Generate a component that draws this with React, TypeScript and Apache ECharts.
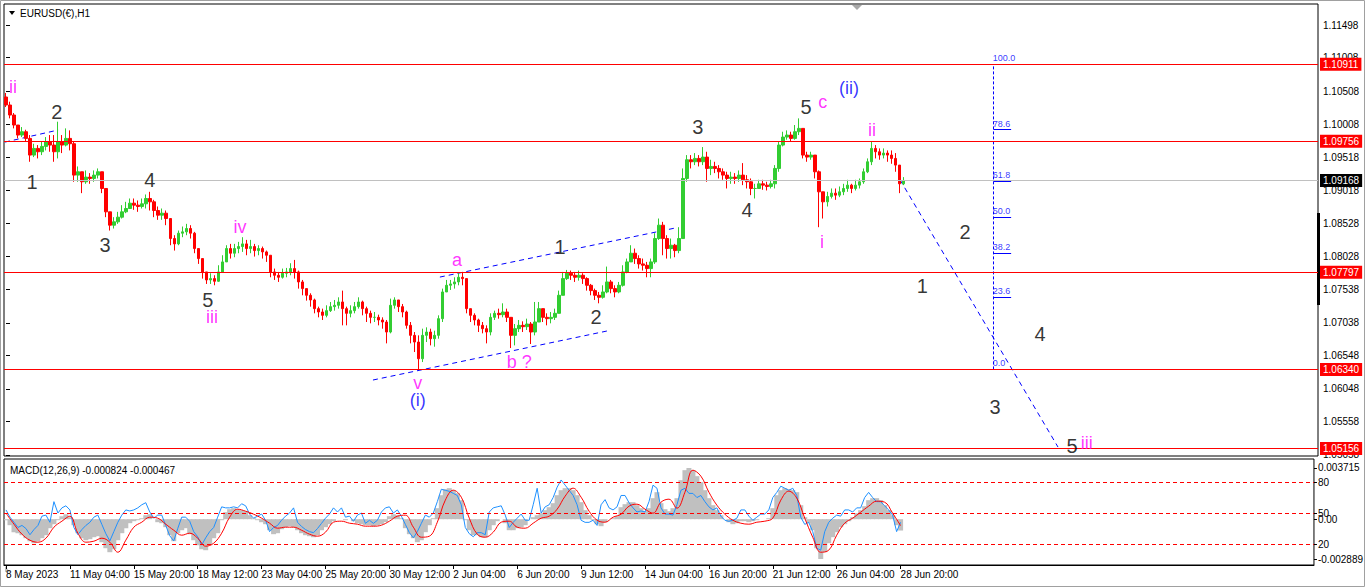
import React, { useEffect, useRef } from "react";
import * as echarts from "echarts";

const FONT = "Liberation Sans, Arial, sans-serif";

// ---- x axis (H1 bars grouped in 4-hour candles) ----
const xTickLabels = ["8 May 2023", "11 May 04:00", "15 May 20:00", "18 May 12:00", "23 May 04:00", "25 May 20:00", "30 May 12:00", "2 Jun 04:00", "6 Jun 20:00", "9 Jun 12:00", "14 Jun 04:00", "16 Jun 20:00", "21 Jun 12:00", "26 Jun 04:00", "28 Jun 20:00"];
const barsPerTick = 16;
const slotCount = 328;

// ---- price axis ----
const priceTicks = [1.11498, 1.11008, 1.10508, 1.10008, 1.09518, 1.09018, 1.08528, 1.08028, 1.07538, 1.07038, 1.06548, 1.06048, 1.05558, 1.05058];
const levelLines = [1.10911, 1.09756, 1.07797, 1.0634, 1.05156];
const currentPrice = 1.09168;

// ---- candles: prices stored as pips above 1.0000 ----
const firstOpen = 1042;
const closes = [1030, 1015, 1000, 985, 990, 980, 955, 965, 960, 968,
  975, 970, 960, 975, 970, 980, 972, 925, 930, 915,
  922, 920, 925, 930, 905, 870, 850, 855, 862, 870,
  875, 883, 880, 878, 882, 890, 885, 872, 865, 868,
  860, 830, 822, 838, 840, 845, 838, 815, 800, 780,
  768, 770, 766, 780, 795, 815, 808, 815, 818, 822,
  815, 818, 812, 815, 810, 805, 780, 775, 772, 778,
  780, 785, 780, 765, 755, 745, 738, 725, 720, 715,
  722, 728, 730, 735, 725, 718, 722, 728, 735, 725,
  718, 712, 712, 708, 705, 690, 730, 738, 728, 720,
  700, 685, 675, 650, 685, 690, 680, 685, 710, 750,
  760, 762, 765, 772, 770, 725, 715, 708, 700, 695,
  690, 712, 718, 716, 720, 712, 685, 695, 700, 698,
  702, 690, 705, 725, 712, 710, 712, 718, 745, 770,
  778, 775, 772, 775, 770, 760, 752, 745, 742, 750,
  765, 755, 750, 760, 780, 795, 808, 800, 792, 790,
  785, 795, 830, 850, 830, 815, 820, 812, 830, 920,
  948, 945, 950, 945, 952, 935, 938, 935, 930, 925,
  920, 922, 920, 925, 918, 915, 905, 905, 912, 910,
  908, 912, 935, 970, 982, 985, 980, 990, 995, 955,
  952, 955, 930, 900, 885, 893, 898, 895, 900, 905,
  910, 905, 910, 915, 930, 945, 965, 960, 955, 958,
  955, 950, 940, 912, 917];
const highs = [1048, 1035, 1018, 1000, 997, 993, 985, 972, 970, 975,
  982, 985, 985, 1005, 985, 995, 992, 975, 938, 930,
  932, 928, 932, 935, 930, 905, 870, 862, 870, 880,
  885, 890, 890, 887, 890, 896, 900, 888, 878, 875,
  872, 860, 835, 842, 848, 852, 850, 840, 815, 800,
  780, 778, 775, 790, 805, 820, 822, 822, 825, 832,
  828, 828, 822, 820, 818, 812, 805, 785, 780, 785,
  786, 793, 798, 782, 768, 755, 748, 740, 728, 725,
  730, 735, 738, 742, 752, 728, 730, 735, 742, 737,
  728, 722, 720, 716, 712, 708, 740, 742, 738, 732,
  722, 705, 690, 685, 695, 697, 695, 692, 715, 755,
  768, 768, 772, 778, 780, 770, 725, 718, 710, 705,
  700, 718, 722, 725, 733, 725, 712, 702, 708, 706,
  710, 705, 735, 735, 725, 718, 720, 725, 752, 780,
  783, 782, 780, 782, 778, 772, 762, 755, 750, 760,
  788, 768, 760, 765, 790, 800, 820, 815, 805, 800,
  795, 800, 838, 860, 855, 835, 830, 822, 847, 935,
  955, 955, 958, 955, 967, 960, 948, 945, 940, 935,
  930, 930, 928, 932, 943, 925, 920, 912, 918, 918,
  915, 918, 940, 975, 990, 992, 990, 1000, 1010, 995,
  960, 960, 955, 932, 900, 900, 905, 905, 908, 912,
  918, 912, 918, 920, 935, 950, 975, 970, 965, 965,
  962, 962, 958, 940, 922];
const lows = [1027, 1010, 995, 980, 982, 975, 945, 952, 950, 955,
  962, 960, 945, 950, 958, 968, 962, 915, 915, 898,
  912, 912, 915, 920, 898, 862, 842, 845, 852, 860,
  868, 875, 873, 870, 875, 875, 872, 862, 858, 858,
  850, 820, 812, 820, 832, 835, 830, 808, 792, 770,
  762, 762, 760, 765, 780, 795, 800, 802, 808, 810,
  805, 808, 803, 805, 800, 795, 772, 768, 765, 770,
  772, 775, 770, 755, 745, 737, 728, 718, 712, 708,
  712, 720, 722, 725, 700, 700, 712, 718, 725, 715,
  705, 703, 705, 700, 695, 673, 688, 725, 720, 712,
  695, 673, 660, 634, 645, 675, 670, 668, 680, 705,
  750, 753, 755, 760, 760, 718, 705, 700, 690, 688,
  673, 685, 708, 710, 712, 705, 666, 670, 690, 690,
  693, 672, 685, 705, 705, 700, 703, 708, 718, 745,
  768, 768, 765, 767, 762, 752, 745, 738, 733, 740,
  748, 748, 742, 748, 758, 778, 795, 792, 785, 782,
  772, 772, 792, 828, 805, 800, 800, 802, 808, 830,
  915, 935, 940, 938, 940, 915, 925, 928, 920, 918,
  905, 912, 912, 915, 910, 905, 895, 890, 905, 903,
  902, 905, 905, 930, 968, 978, 975, 978, 985, 950,
  945, 948, 920, 847, 860, 878, 890, 888, 892, 895,
  900, 898, 902, 905, 912, 928, 940, 950, 948, 950,
  945, 942, 930, 898, 910];

// ---- MACD panel (values in 1e-6) ----
const macdMain = [-73, -436, -944, -1016, -1162, -1379, -1597, -1742, -1597, -1379,
  -1162, -653, -363, -73, 218, 363, 145, -436, -1016, -1379,
  -1525, -1452, -1307, -1234, -1670, -2105, -2396, -2178, -1525, -1016,
  -653, -290, -145, -73, 73, 290, 363, 0, -218, -290,
  -581, -1162, -1597, -1016, -799, -653, -1089, -1525, -1888, -2178,
  -2251, -1888, -1379, -1016, -73, 508, 726, 799, 726, 653,
  581, 290, 73, -73, -218, -363, -799, -1089, -1016, -726,
  -581, -508, -581, -799, -1016, -1162, -1234, -1307, -1162, -799,
  -581, -363, -145, 0, 0, -73, 0, -145, -290, -363,
  -436, -436, -508, -436, -363, -218, 218, 363, 290, 73,
  -653, -1089, -1379, -1670, -1525, -944, -436, 73, 799, 1742,
  2178, 2251, 2105, 1888, 1380, -73, -799, -1162, -1162, -1307,
  -1307, -799, -436, -145, 0, -290, -799, -799, -653, -581,
  -436, 0, 145, 290, 436, 653, 871, 1162, 1742, 2105,
  2251, 2251, 2105, 1742, 1234, 653, 290, -73, -363, -508,
  -218, 0, 73, 218, 871, 1089, 1234, 1234, 1016, 799,
  581, 799, 1525, 1960, 1162, 726, 581, 799, 1525, 2831,
  3557, 3715, 3557, 3122, 2686, 2105, 1525, 1016, 653, 290,
  0, -218, -363, -290, -145, -145, -218, -145, -73, 0,
  0, 73, 799, 1742, 2105, 2251, 2178, 2105, 1960, 1016,
  145, -290, -799, -2105, -2889, -2396, -1742, -1307, -944, -581,
  -363, -145, 145, 436, 653, 944, 1380, 1525, 1525, 1380,
  1016, 653, 290, -436, -824];
// signal line, one value every 2nd candle
const macdSignal = [436, -363, -1089, -1525, -1670, -1379, -581, -145, 218, -1016,
  -1670, -1597, -1379, -1670, -2396, -1525, -581, -218, 145, 73,
  -363, -799, -1162, -1016, -1379, -1960, -1742, -1016, 145, 726,
  581, 363, 73, -290, -653, -581, -581, -799, -1089, -1234,
  -944, -218, -145, -290, -363, -508, -508, -436, -145, 218,
  290, -581, -1307, -1234, -218, 1380, 2105, 1597, 73, -1089,
  -1307, -944, -218, -145, -581, -653, -290, 73, 218, 726,
  1670, 2251, 1597, 581, -73, -218, 145, 363, 944, 1089,
  726, 436, 1234, 1452, 799, 1960, 3557, 3122, 1960, 1016,
  363, -73, -290, -363, -218, -145, 73, 1380, 2033, 1525,
  73, -1307, -2396, -2251, -1162, -290, 73, 508, 944, 1307,
  1234, 436, -467];
const oscBlue = [53, 46, 41, 36, 38, 35, 29, 34, 38, 47,
  48, 41, 61, 50, 55, 57, 53, 36, 29, 34,
  38, 41, 46, 48, 39, 30, 23, 32, 41, 48,
  53, 52, 53, 55, 58, 60, 51, 45, 48, 48,
  38, 28, 23, 35, 46, 46, 42, 32, 27, 19,
  26, 32, 36, 46, 56, 55, 55, 56, 55, 59,
  57, 49, 45, 47, 49, 43, 32, 36, 38, 43,
  47, 50, 55, 41, 37, 34, 32, 31, 35, 40,
  45, 49, 55, 51, 55, 46, 47, 42, 48, 50,
  40, 43, 40, 43, 51, 55, 56, 50, 53, 47,
  39, 31, 26, 32, 40, 48, 46, 50, 61, 73,
  72, 71, 69, 67, 58, 36, 30, 27, 31, 31,
  29, 51, 55, 56, 57, 48, 36, 41, 45, 49,
  43, 43, 58, 74, 50, 56, 58, 65, 75, 82,
  77, 72, 67, 58, 43, 41, 41, 43, 38, 58,
  63, 55, 53, 56, 67, 67, 60, 55, 51, 52,
  51, 61, 77, 74, 55, 49, 49, 48, 58, 72,
  74, 69, 69, 65, 67, 61, 56, 53, 55, 47,
  43, 42, 43, 45, 53, 53, 47, 43, 46, 49,
  49, 53, 65, 70, 76, 74, 72, 74, 67, 46,
  39, 41, 32, 16, 14, 32, 41, 45, 48, 47,
  53, 53, 51, 55, 55, 65, 70, 65, 61, 61,
  57, 53, 48, 32, 41];
const macdTicks = [0.003715, 0, -0.002889];
const oscLevels = [80, 50, 20];

// ---- annotations: [text, bar index, price, colour key] ----
const waveLabels: [string, number, number, string][] = [
  ["ii", 1.75, 1.10569, "m"], ["2", 12.7, 1.10195, "k"], ["1", 6.5, 1.09146, "k"],
  ["4", 35.9, 1.09176, "k"], ["3", 24.7, 1.08203, "k"], ["iv", 58.4, 1.08472, "m"],
  ["5", 50.4, 1.07379, "k"], ["iii", 51.4, 1.07124, "m"], ["a", 112.6, 1.07978, "m"],
  ["1", 138.3, 1.08173, "k"], ["2", 147.3, 1.07124, "k"], ["b ?", 128.1, 1.0645, "m"],
  ["v", 102.8, 1.06136, "m"], ["(i)", 102.8, 1.05881, "b"], ["3", 172.7, 1.0997, "k"],
  ["4", 185, 1.08727, "k"], ["5", 199.7, 1.10269, "k"], ["c", 203.9, 1.10344, "m"],
  ["(ii)", 210.4, 1.10554, "b"], ["ii", 216.2, 1.09925, "m"], ["i", 203.7, 1.08248, "m"],
  ["2", 239.4, 1.08397, "k"], ["1", 228.7, 1.07589, "k"], ["4", 258.1, 1.0687, "k"],
  ["3", 246.9, 1.05776, "k"], ["5", 266.1, 1.05192, "k"], ["iii", 269.8, 1.05237, "m"],
];
const trendLines: number[][][] = [
  [[-0.25, 1.09745], [13, 1.09925]],
  [[91.6, 1.06181], [150, 1.06915]],
  [[108.3, 1.07723], [167, 1.08457]],
  [[223.2, 1.09176], [262.6, 1.05177]],
];
const fibLow = 1.0634;
const fibHigh = 1.10911;
const fibLevels = [0, 23.6, 38.2, 50, 61.8, 78.6, 100];
const fibX = [246.5, 250.9];

const colorOf: Record<string, string> = { k: "#000000", m: "#ff00ff", b: "#0000ff" };

function buildOption(): any {
  const toPrice = (p: number) => 1 + p / 10000;
  const categories = Array.from({ length: slotCount }, (_, i) => String(i));
  const candles = closes.map((c, i) => {
    const o = i === 0 ? firstOpen : closes[i - 1];
    const lo = Math.min(lows[i], o, c);
    const hi = Math.max(highs[i], o, c);
    return [toPrice(o), toPrice(c), toPrice(lo), toPrice(hi)];
  });
  const tickShown = (idx: number) => idx % barsPerTick === 0 && idx / barsPerTick < xTickLabels.length;
  const fibPrices = fibLevels.map((l) => fibLow + (fibHigh - fibLow) * l / 100);

  const markLabel = (v: number, bg: string) => ({
    show: true, position: "end", distance: 2,
    formatter: () => v.toFixed(5),
    color: "#fff", backgroundColor: bg, padding: [2, 3, 1, 3],
    fontSize: 10, fontFamily: FONT,
  });

  return {
    animation: false,
    backgroundColor: "#fff",
    grid: [
      { left: 4, top: 4, width: 1314, height: 452, show: true, borderColor: "#000", borderWidth: 1 },
      { left: 4, top: 459, width: 1314, height: 106, show: true, borderColor: "#000", borderWidth: 1 },
    ],
    xAxis: [
      { type: "category", gridIndex: 0, data: categories, show: false, boundaryGap: true },
      { type: "value", gridIndex: 0, min: -0.5, max: slotCount - 0.5, show: false },
      {
        type: "category", gridIndex: 1, data: categories, boundaryGap: true, position: "bottom",
        axisLine: { show: true, onZero: false, lineStyle: { color: "#000", width: 1 } },
        axisTick: { show: true, interval: (i: number) => tickShown(i), alignWithLabel: true, length: 4, lineStyle: { color: "#000" } },
        axisLabel: {
          interval: (i: number) => tickShown(i),
          formatter: (_v: string, i: number) => xTickLabels[i / barsPerTick] ?? "",
          align: "left", color: "#000", fontSize: 10, fontFamily: FONT, margin: 4,
        },
        splitLine: { show: false },
      },
    ],
    yAxis: [
      {
        type: "value", gridIndex: 0, position: "right", min: 1.05043, max: 1.11813,
        splitLine: { show: false }, axisLine: { show: false },
        axisTick: { show: true, customValues: priceTicks, length: 4, lineStyle: { color: "#000" } },
        axisLabel: { customValues: priceTicks, formatter: (v: number) => v.toFixed(5), color: "#000", fontSize: 10, fontFamily: FONT, margin: 5 },
      },
      {
        type: "value", gridIndex: 1, position: "right", min: -0.003324, max: 0.004368,
        splitLine: { show: false }, axisLine: { show: false },
        axisTick: { show: true, customValues: macdTicks, length: 3, lineStyle: { color: "#000" } },
        axisLabel: { customValues: macdTicks, formatter: (v: number) => (v === 0 ? "0.00" : v.toFixed(6)), color: "#000", fontSize: 10, fontFamily: FONT, margin: 4 },
      },
      {
        type: "value", gridIndex: 1, position: "right", min: -0.3, max: 102.3,
        splitLine: { show: false }, axisLine: { show: false },
        axisTick: { show: true, customValues: oscLevels, length: 3, lineStyle: { color: "#000" } },
        axisLabel: { customValues: oscLevels, formatter: (v: number) => String(v), color: "#000", fontSize: 10, fontFamily: FONT, margin: 4 },
      },
    ],
    series: [
      {
        type: "candlestick", xAxisIndex: 0, yAxisIndex: 0, data: candles, barWidth: 3,
        itemStyle: { color: "#32cd32", color0: "#ff0000", borderColor: "#32cd32", borderColor0: "#ff0000", borderWidth: 1 },
        markLine: {
          silent: true, symbol: ["none", "none"], precision: 5, z: 10,
          data: [
            ...levelLines.map((v) => ({ yAxis: v, lineStyle: { color: "#ff0000", width: 1, type: "solid" }, label: markLabel(v, "#ff0000") })),
            { yAxis: currentPrice, lineStyle: { color: "#c0c0c0", width: 1, type: "solid" }, label: markLabel(currentPrice, "#000000") },
          ],
        },
      },
      {
        type: "lines", coordinateSystem: "cartesian2d", xAxisIndex: 1, yAxisIndex: 0, silent: true,
        data: trendLines.map((c) => ({ coords: c })),
        lineStyle: { color: "#0000ff", width: 1, type: [5, 4], opacity: 1 },
      },
      {
        type: "lines", coordinateSystem: "cartesian2d", xAxisIndex: 1, yAxisIndex: 0, silent: true,
        data: [
          { coords: [[fibX[0], fibPrices[0]], [fibX[0], fibPrices[fibPrices.length - 1]]], lineStyle: { type: [3, 2] } },
          ...fibPrices.map((p) => ({ coords: [[fibX[0], p], [fibX[1], p]], lineStyle: { type: "solid" } })),
        ],
        lineStyle: { color: "#0000ff", width: 1, opacity: 1 },
      },
      {
        type: "scatter", xAxisIndex: 1, yAxisIndex: 0, silent: true, symbolSize: 1,
        itemStyle: { color: "rgba(0,0,0,0)" },
        data: fibLevels.map((l, i) => ({ value: [fibX[0] - 0.3, fibPrices[i]], label: { formatter: l.toFixed(1) } })),
        label: { show: true, position: "right", distance: 0, offset: [0, -6], color: "#0000ff", fontSize: 9, fontFamily: FONT, textBorderWidth: 0 },
      },
      {
        type: "scatter", xAxisIndex: 1, yAxisIndex: 0, silent: true, symbolSize: 1,
        itemStyle: { color: "rgba(0,0,0,0)" },
        data: waveLabels.map(([t, i, p, c]) => ({
          value: [i, p],
          label: { formatter: t, color: colorOf[c], fontSize: c === "k" ? 20 : 18 },
        })),
        label: { show: true, position: "inside", fontFamily: FONT, textBorderWidth: 0 },
        z: 20,
      },
      {
        type: "bar", xAxisIndex: 2, yAxisIndex: 1, data: macdMain.map((v) => v / 1e6),
        barWidth: 5, itemStyle: { color: "#c0c0c0" }, silent: true,
      },
      {
        type: "line", xAxisIndex: 2, yAxisIndex: 2, data: oscBlue, symbol: "none", silent: true,
        lineStyle: { color: "#1e90ff", width: 1 },
        markLine: {
          silent: true, symbol: ["none", "none"],
          data: oscLevels.map((v) => ({ yAxis: v })),
          lineStyle: { color: "#ff0000", width: 1, type: [4, 3] },
          label: { show: false },
        },
      },
      {
        type: "line", xAxisIndex: 2, yAxisIndex: 1, data: macdSignal.map((v, k) => [k * 2, v / 1e6]),
        symbol: "none", smooth: 0.4, silent: true, lineStyle: { color: "#ff0000", width: 1 },
      },
    ],
    graphic: [
      { type: "rect", shape: { x: 0.5, y: 0.5, width: 1364, height: 586 }, style: { fill: "none", stroke: "#a0a0a0", lineWidth: 1 }, silent: true },
      { type: "polygon", shape: { points: [[9, 11], [15, 11], [12, 15]] }, style: { fill: "#000" }, silent: true },
      { type: "text", x: 20, y: 13, style: { text: "EURUSD(€),H1", fill: "#000", font: `10px ${FONT}`, verticalAlign: "middle" }, silent: true },
      { type: "text", x: 10, y: 470, style: { text: "MACD(12,26,9) -0.000824 -0.000467", fill: "#000", font: `10px ${FONT}`, verticalAlign: "middle" }, silent: true },
      { type: "polygon", shape: { points: [[852, 5], [862, 5], [857, 10]] }, style: { fill: "#a8a8a8" }, silent: true },
      { type: "polygon", shape: { points: [[5, 566], [5, 572], [10, 572]] }, style: { fill: "#c0c0c0" }, silent: true },
      { type: "rect", shape: { x: 1317, y: 213, width: 3, height: 92 }, style: { fill: "#000" }, silent: true },
    ],
  };
}

export default function App() {
  const ref = useRef<HTMLDivElement>(null);
  useEffect(() => {
    if (!ref.current) return;
    const chart = echarts.init(ref.current, null, { renderer: "svg" });
    chart.setOption(buildOption());
    return () => chart.dispose();
  }, []);
  return (
    <div
      ref={ref}
      style={{ position: "fixed", left: 0, top: 0, width: 1366, height: 588, background: "#fff" }}
    />
  );
}
